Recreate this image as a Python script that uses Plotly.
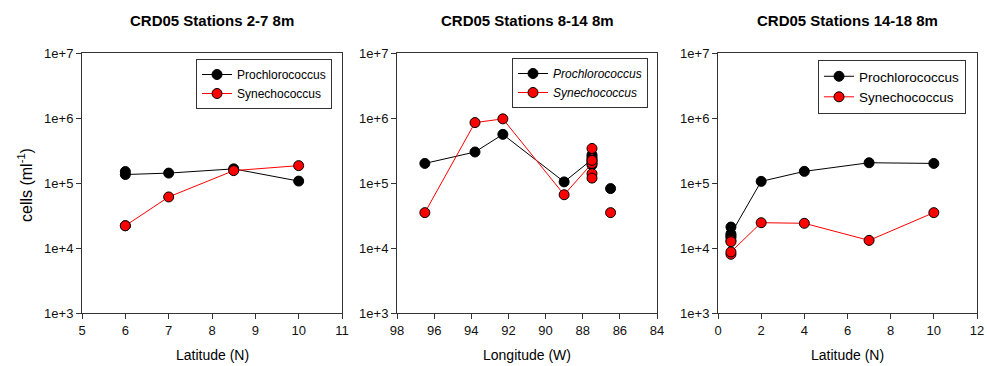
#!/usr/bin/env python3
import plotly.graph_objects as go

# Stations 2-7, 8 m
lat_2_7 = [6, 6, 7, 8.5, 10]
pro_2_7 = [1.5e5, 1.35e5, 1.42e5, 1.65e5, 1.07e5]
syn_2_7 = [2.2e4, 2.2e4, 6.1e4, 1.55e5, 1.85e5]

# Stations 8-14, 8 m (None breaks the line before the last station)
lon_8_14 = [96.5, 93.8, 92.3, 89.0, 87.5, 87.5, 87.5, 87.5, 87.5, None, 86.5]
pro_8_14 = [2.0e5, 3.0e5, 5.6e5, 1.04e5, 2.3e5, 2.7e5, 2.5e5, 2.1e5, 1.9e5, None, 8.2e4]
syn_8_14 = [3.5e4, 8.5e5, 9.7e5, 6.6e4, 2.0e5, 2.23e5, 3.4e5, 1.39e5, 1.19e5, None, 3.5e4]

# Stations 14-18, 8 m
lat_14_18 = [0.6, 0.6, 0.6, 0.6, 2, 4, 7, 10]
pro_14_18 = [2.1e4, 1.55e4, 1.45e4, 1.65e4, 1.06e5, 1.51e5, 2.05e5, 2.0e5]
syn_14_18 = [1.3e4, 1.25e4, 8.0e3, 8.7e3, 2.45e4, 2.4e4, 1.31e4, 3.5e4]

titles = ["CRD05 Stations 2-7 8m", "CRD05 Stations 8-14 8m", "CRD05 Stations 14-18 8m"]
xtitles = ["Latitude (N)", "Longitude (W)", "Latitude (N)"]
ytick_vals = [1e3, 1e4, 1e5, 1e6, 1e7]
ytick_text = ["1e+3", "1e+4", "1e+5", "1e+6", "1e+7"]

W, H = 987, 366
FONT = "Liberation Sans, Arial, sans-serif"
AXIS_COLOR = "#333333"


def px_x(p):
    # page pixel -> paper fraction
    return p / W


def px_y(p):
    return 1 - p / H


def add_pair(fig, n, x, pro, syn, legend, italic=False):
    axis_x = "x" if n == 1 else f"x{n}"
    axis_y = "y" if n == 1 else f"y{n}"
    names = ["Prochlorococcus", "Synechococcus"]
    if italic:
        names = [f"<i>{s}</i>" for s in names]
    for name, y, color in [(names[0], pro, "black"), (names[1], syn, "#ff0000")]:
        fig.add_trace(go.Scatter(
            x=x, y=y, name=name, mode="lines+markers",
            xaxis=axis_x, yaxis=axis_y, legend=legend,
            line=dict(color=color, width=1),
            marker=dict(symbol="circle", size=10, color=color,
                        line=dict(color="black", width=1)),
        ))


def main():
    fig = go.Figure()
    add_pair(fig, 1, lat_2_7, pro_2_7, syn_2_7, "legend")
    add_pair(fig, 2, lon_8_14, pro_8_14, syn_8_14, "legend2", italic=True)
    add_pair(fig, 3, lat_14_18, pro_14_18, syn_14_18, "legend3")

    panels = [(82, 342), (397, 657), (718, 977)]
    xranges = [[5, 11], [98, 84], [0, 12]]
    xdticks = [1, 2, 2]
    top, bottom = 53, 313

    axis_common = dict(
        showline=True, linecolor=AXIS_COLOR, linewidth=1, mirror=True,
        ticks="outside", ticklen=5, tickcolor=AXIS_COLOR, tickwidth=1,
        showgrid=False, zeroline=False, ticklabeloverflow="allow",
        tickfont=dict(family=FONT, size=13, color="#111111"),
    )

    layout = {}
    annotations = []
    for i, ((x0, x1), xr, dt) in enumerate(zip(panels, xranges, xdticks), start=1):
        sfx = "" if i == 1 else str(i)
        layout[f"xaxis{sfx}"] = dict(
            axis_common, domain=[px_x(x0), px_x(x1)], range=xr, dtick=dt,
            tick0=0, anchor=f"y{sfx}",
        )
        layout[f"yaxis{sfx}"] = dict(
            axis_common, domain=[px_y(bottom), px_y(top)], type="log",
            range=[3, 7], tickvals=ytick_vals, ticktext=ytick_text,
            anchor=f"x{sfx}",
        )
        cx = px_x((x0 + x1) / 2)
        annotations.append(dict(
            text=f"<b>{titles[i - 1]}</b>", x=cx, y=px_y(21), xref="paper", yref="paper",
            showarrow=False, xanchor="center", yanchor="middle",
            font=dict(family=FONT, size=15, color="black"),
        ))
        annotations.append(dict(
            text=xtitles[i - 1], x=cx, y=px_y(355), xref="paper", yref="paper",
            showarrow=False, xanchor="center", yanchor="middle",
            font=dict(family=FONT, size=14, color="black"),
        ))

    annotations.append(dict(
        text="cells (ml<sup>-1</sup>)", x=px_x(25), y=px_y(185), xref="paper", yref="paper",
        showarrow=False, xanchor="center", yanchor="middle", textangle=-90,
        font=dict(family=FONT, size=16, color="black"),
    ))

    legend_common = dict(
        xanchor="left", yanchor="top", bgcolor="white",
        bordercolor=AXIS_COLOR, borderwidth=1,
        font=dict(family=FONT, size=12, color="black"),
    )

    fig.update_layout(
        **layout,
        annotations=annotations,
        legend=dict(legend_common, x=px_x(196), y=px_y(59)),
        legend2=dict(legend_common, x=px_x(512), y=px_y(58)),
        legend3=dict(legend_common, x=px_x(818), y=px_y(60),
                     font=dict(family=FONT, size=13.5, color="black")),
        width=W, height=H,
        margin=dict(l=0, r=0, t=0, b=0, autoexpand=False),
        paper_bgcolor="white", plot_bgcolor="white",
        showlegend=True,
    )

    # drop the default page margin so the figure fills the window exactly
    fig.write_html(
        "out.html",
        config={"displayModeBar": False},
        post_script="document.body.style.margin='0';document.body.style.overflow='hidden';",
    )


if __name__ == "__main__":
    main()
